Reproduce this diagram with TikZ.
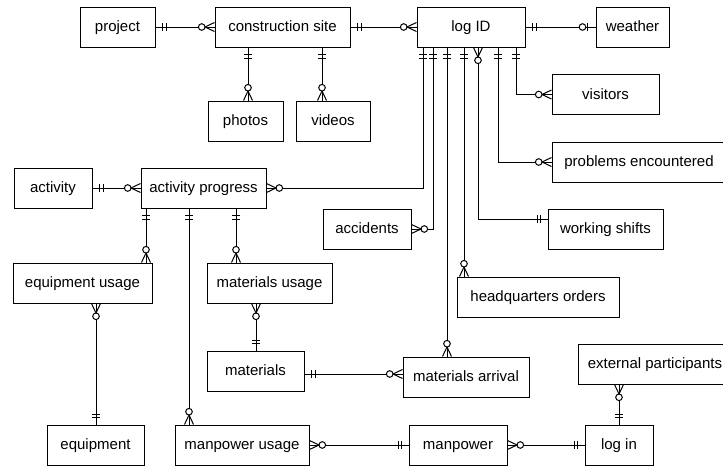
\documentclass[tikz,border=0pt]{standalone}
\usepackage{fontspec}
\setmainfont{Liberation Sans}
\begin{document}
\begin{tikzpicture}[x=1pt,y=-1pt, line width=1pt,
  ent/.style={draw, minimum height=40pt, inner sep=0pt, text height=11.5pt, text depth=2.5pt, font=\fontsize{15}{18}\selectfont},
  erone/.pic={\draw (7,-4) -- (7,4) (10.5,-4) -- (10.5,4);},
  ermany/.pic={\draw (0,-4.5) -- (9.5,0) -- (0,4.5); \draw[fill=white] (12.8,0) circle[radius=3.3];},
  erzeroone/.pic={\draw (7.8,-4) -- (7.8,4); \draw[fill=white] (13,0) circle[radius=3.3];}]
\clip (0,0) rectangle (723,466);
% entities
\node[ent, minimum width=75pt]  (project)   at (117.5,27) {project};
\node[ent, minimum width=135pt] (cs)        at (282.5,27) {construction site};
\node[ent, minimum width=108pt] (logid)     at (471,27)   {log ID};
\node[ent, minimum width=73pt]  (weather)   at (632.5,27) {weather};
\node[ent, minimum width=75pt]  (photos)    at (245.5,121) {photos};
\node[ent, minimum width=74pt]  (videos)    at (333,121)  {videos};
\node[ent, minimum width=107pt] (visitors)  at (605.5,94.5) {visitors};
\node[ent, minimum width=174pt] (problems)  at (639,162)  {problems encountered};
\node[ent, minimum width=115pt] (ws)        at (605.5,229) {working shifts};
\node[ent, minimum width=88pt]  (acc)       at (367,229)  {accidents};
\node[ent, minimum width=162pt] (hq)        at (538,297)  {headquarters orders};
\node[ent, minimum width=78pt]  (activity)  at (53,188)   {activity};
\node[ent, minimum width=125pt] (ap)        at (203.5,188) {activity progress};
\node[ent, minimum width=139pt] (eu)        at (82.5,283) {equipment usage};
\node[ent, minimum width=125pt] (mu)        at (269.5,283) {materials usage};
\node[ent, minimum width=97pt]  (materials) at (255.5,371) {materials};
\node[ent, minimum width=126pt] (ma)        at (466,377)  {materials arrival};
\node[ent, minimum width=154pt] (ep)        at (655,364)  {external participants};
\node[ent, minimum width=97pt]  (equipment) at (95.5,445) {equipment};
\node[ent, minimum width=134pt] (mpu)       at (242,445)  {manpower usage};
\node[ent, minimum width=98pt]  (manpower)  at (458,445)  {manpower};
\node[ent, minimum width=68pt]  (login)     at (619,445)  {log in};
% helper coordinates
\coordinate (cph) at (248,0);
\coordinate (cvi) at (322,0);
\coordinate (lvis) at (516,0);
\coordinate (lpro) at (498,0);
\coordinate (lws) at (478,0);
\coordinate (lhq) at (464,0);
\coordinate (lma) at (447,0);
\coordinate (lacc) at (433,0);
\coordinate (lap) at (423,0);
\coordinate (aeu) at (146,0);
\coordinate (ampu) at (189,0);
\coordinate (amu) at (236,0);
\coordinate (eeq) at (96,0);
\coordinate (mmat) at (256,0);
\coordinate (ymat) at (0,374);
\coordinate (yws) at (0,219);
% connectors
\draw (project.east) -- (cs.west);
\draw (cs.east) -- (logid.west);
\draw (logid.east) -- (weather.west);
\draw (cs.south -| cph) -- (photos.north -| cph);
\draw (cs.south -| cvi) -- (videos.north -| cvi);
\draw (logid.south -| lvis) |- (visitors.west);
\draw (logid.south -| lpro) |- (problems.west);
\draw (logid.south -| lws) |- (ws.west |- yws);
\draw (logid.south -| lhq) -- (hq.north -| lhq);
\draw (logid.south -| lma) -- (ma.north -| lma);
\draw (logid.south -| lacc) |- (acc.east);
\draw (logid.south -| lap) |- (ap.east);
\draw (activity.east) -- (ap.west);
\draw (ap.south -| aeu) -- (eu.north -| aeu);
\draw (ap.south -| ampu) -- (mpu.north -| ampu);
\draw (ap.south -| amu) -- (mu.north -| amu);
\draw (eu.south -| eeq) -- (equipment.north -| eeq);
\draw (mu.south -| mmat) -- (materials.north -| mmat);
\draw (materials.east |- ymat) -- (ma.west |- ymat);
\draw (mpu.east) -- (manpower.west);
\draw (manpower.east) -- (login.west);
\draw (ep.south -| login) -- (login.north);
% end markers
\pic at (project.east) {erone};
\pic[rotate=180] at (cs.west) {ermany};
\pic at (cs.east) {erone};
\pic[rotate=180] at (logid.west) {ermany};
\pic at (logid.east) {erone};
\pic[rotate=180] at (weather.west) {erzeroone};
\pic[rotate=-90] at (cs.south -| cph) {erone};
\pic[rotate=90] at (photos.north -| cph) {ermany};
\pic[rotate=-90] at (cs.south -| cvi) {erone};
\pic[rotate=90] at (videos.north -| cvi) {ermany};
\pic[rotate=-90] at (logid.south -| lvis) {erone};
\pic[rotate=180] at (visitors.west) {ermany};
\pic[rotate=-90] at (logid.south -| lpro) {erone};
\pic[rotate=180] at (problems.west) {ermany};
\pic[rotate=-90] at (logid.south -| lws) {ermany};
\pic[rotate=180] at (ws.west |- yws) {erone};
\pic[rotate=-90] at (logid.south -| lhq) {erone};
\pic[rotate=90] at (hq.north -| lhq) {ermany};
\pic[rotate=-90] at (logid.south -| lma) {erone};
\pic[rotate=90] at (ma.north -| lma) {ermany};
\pic[rotate=-90] at (logid.south -| lacc) {erone};
\pic at (acc.east) {ermany};
\pic[rotate=-90] at (logid.south -| lap) {erone};
\pic at (ap.east) {ermany};
\pic at (activity.east) {erone};
\pic[rotate=180] at (ap.west) {ermany};
\pic[rotate=-90] at (ap.south -| aeu) {erone};
\pic[rotate=90] at (eu.north -| aeu) {ermany};
\pic[rotate=-90] at (ap.south -| ampu) {erone};
\pic[rotate=90] at (mpu.north -| ampu) {ermany};
\pic[rotate=-90] at (ap.south -| amu) {erone};
\pic[rotate=90] at (mu.north -| amu) {ermany};
\pic[rotate=-90] at (eu.south -| eeq) {ermany};
\pic[rotate=90] at (equipment.north -| eeq) {erone};
\pic[rotate=-90] at (mu.south -| mmat) {ermany};
\pic[rotate=90] at (materials.north -| mmat) {erone};
\pic at (materials.east |- ymat) {erone};
\pic[rotate=180] at (ma.west |- ymat) {ermany};
\pic at (mpu.east) {ermany};
\pic[rotate=180] at (manpower.west) {erone};
\pic at (manpower.east) {ermany};
\pic[rotate=180] at (login.west) {erone};
\pic[rotate=-90] at (ep.south -| login) {ermany};
\pic[rotate=90] at (login.north) {erone};
\end{tikzpicture}
\end{document}
